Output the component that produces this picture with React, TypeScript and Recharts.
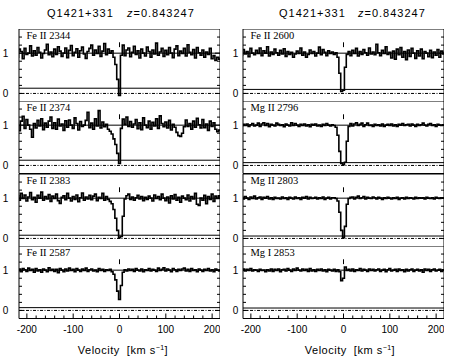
import React from 'react';
import { LineChart, Line, XAxis, YAxis, ReferenceLine, ReferenceArea } from 'recharts';

// velocity bin centres, km/s
const velocity = [
  -220, -216, -212, -208, -204, -200, -196, -192, -188, -184,
  -180, -176, -172, -168, -164, -160, -156, -152, -148, -144,
  -140, -136, -132, -128, -124, -120, -116, -112, -108, -104,
  -100, -96, -92, -88, -84, -80, -76, -72, -68, -64,
  -60, -56, -52, -48, -44, -40, -36, -32, -28, -24,
  -20, -16, -12, -8, -4, 0, 4, 8, 12, 16,
  20, 24, 28, 32, 36, 40, 44, 48, 52, 56,
  60, 64, 68, 72, 76, 80, 84, 88, 92, 96,
  100, 104, 108, 112, 116, 120, 124, 128, 132, 136,
  140, 144, 148, 152, 156, 160, 164, 168, 172, 176,
  180, 184, 188, 192, 196, 200, 204, 208, 212, 216,
  220,
];

const fe2344 = [
  0.9, 1.1, 1.04, 0.86, 1.12, 0.97, 1.0, 1.18, 0.93, 1.06,
  0.95, 1.14, 1.02, 0.88, 0.99, 1.08, 1.22, 0.96, 1.03, 0.91,
  1.1, 0.97, 1.16, 1.05, 0.92, 1.0, 1.13, 0.89, 1.07, 1.19,
  0.94, 1.02, 1.11, 0.9, 1.06, 1.15, 0.98, 0.87, 1.04, 1.12,
  1.2, 0.95, 1.08, 0.99, 1.17, 0.92, 1.05, 1.24, 0.96, 1.1,
  1.0, 1.06, 0.9, 0.72, 0.35, -0.05, 0.95, 1.2, 0.94, 1.08,
  1.13, 0.91, 1.02, 1.17, 0.97, 1.06, 0.88, 1.1, 1.0, 0.93,
  1.15, 1.04, 0.9, 1.08, 0.98, 1.25, 0.95, 1.03, 1.12, 0.92,
  1.07, 0.96, 1.14, 1.0, 0.89, 1.1, 1.18, 0.94, 1.05, 0.99,
  1.12, 0.93, 1.21, 1.02, 0.96, 1.09, 0.88, 1.14, 1.01, 0.95,
  1.08, 0.9, 1.03, 0.97, 1.12, 0.86, 0.94, 0.82, 0.9, 0.85,
  0.88,
];

const fe2374 = [
  0.96, 0.86, 1.1, 1.22, 0.92, 1.14, 1.0, 0.9, 0.7, 1.04,
  0.93, 1.12, 0.98, 1.16, 0.89, 1.05, 0.95, 1.1, 1.2, 0.92,
  1.06, 0.9, 1.15, 0.98, 1.03, 0.87, 1.11, 0.95, 1.13, 1.0,
  0.92, 1.18, 1.04, 0.88, 1.09, 0.97, 1.0, 1.12, 1.32, 0.94,
  1.05, 0.9, 1.16, 0.98, 1.36, 0.93, 1.08, 0.96, 1.02, 0.9,
  0.85, 0.78, 0.66, 0.52, 0.3, 0.05, 0.92, 1.15, 1.02, 1.2,
  0.97, 1.09, 0.95, 1.03, 1.14, 0.91, 1.06, 0.89, 1.18, 1.0,
  0.94, 1.1, 0.9, 1.07, 0.98, 1.16, 0.92, 1.23, 1.04, 0.96,
  1.08, 0.93, 1.12, 0.88, 1.02, 0.95, 0.82, 0.74, 0.72, 0.8,
  0.96, 1.13, 0.97, 1.04, 0.9, 1.1, 0.95, 1.17, 1.01, 0.93,
  1.14, 0.94, 1.03, 0.87, 1.1, 0.97, 1.06, 0.9, 0.84, 0.88,
  0.86,
];

const fe2383 = [
  1.06, 0.95, 1.12, 0.99, 1.08, 0.93, 1.03, 1.14, 0.96, 1.02,
  0.9, 1.07, 1.0, 1.15, 0.95, 1.04, 0.98, 1.09, 0.92, 1.05,
  0.99, 1.1, 0.94, 0.87, 1.02, 1.06, 0.96, 1.12, 1.0, 0.93,
  1.04, 0.97, 1.08, 0.91, 1.01, 1.13, 0.95, 1.03, 0.98, 1.07,
  0.96, 1.05, 1.1, 0.94, 1.02, 0.99, 1.12, 0.95, 1.04, 0.97,
  0.92, 0.86, 0.72, 0.5, 0.2, 0.02, 0.05, 0.55, 0.98, 1.06,
  1.1, 0.97, 1.03, 0.95, 1.01, 1.07, 0.98, 1.04, 0.94, 1.02,
  0.97, 1.05, 1.0, 0.93, 1.08, 0.99, 1.04, 0.96, 1.1, 1.0,
  0.94, 1.03, 0.88, 1.06, 0.98, 1.09, 0.95, 1.02, 0.9, 1.05,
  1.0, 0.96, 1.08, 0.93, 1.04, 0.98, 1.12, 0.85, 0.82, 1.0,
  0.95, 1.07, 0.86, 1.04, 0.97, 1.1, 0.92, 1.05, 0.99, 1.06,
  1.02,
];

const fe2587 = [
  0.98, 1.03, 0.96, 1.04, 1.01, 0.97, 1.05, 0.99, 1.02, 0.95,
  1.04, 0.98, 1.01, 0.95, 1.03, 1.0, 0.96, 1.06, 0.99, 1.02,
  0.97, 1.02, 0.94, 1.04, 1.0, 0.96, 1.03, 0.98, 1.05, 0.99,
  1.02, 0.96, 1.04, 1.0, 0.97, 1.03, 0.99, 1.05, 0.97, 1.01,
  1.03, 0.98, 1.0, 0.96, 1.04, 0.99, 1.02, 0.97, 1.01, 0.99,
  1.02, 0.96, 0.9, 0.76, 0.48, 0.27, 0.62, 0.95, 1.01, 0.98,
  1.03, 0.99, 1.02, 0.97, 1.04, 1.0, 0.98, 1.03, 0.96, 1.01,
  0.99, 1.04, 0.98, 1.02, 1.0, 0.97, 1.05, 0.99, 1.02, 1.06,
  0.98, 1.03, 1.0, 0.96, 1.04, 1.01, 0.97, 1.02, 0.99, 1.03,
  1.05, 0.98, 1.02, 0.97, 1.04, 0.99, 1.01, 0.96, 1.03, 1.0,
  0.97, 1.02, 0.99, 1.04, 0.98, 1.01, 0.96, 1.03, 1.0, 0.98,
  1.01,
];

const fe2600 = [
  0.95, 1.09, 0.98, 1.04, 0.91, 1.12, 1.0, 0.96, 1.07, 0.99,
  1.13, 0.94, 1.06, 1.0, 1.16, 0.93, 1.03, 0.97, 1.1, 1.01,
  0.95, 1.07, 0.98, 1.11, 0.92, 1.04, 0.97, 1.02, 0.9, 0.98,
  1.05, 0.99, 1.13, 0.95, 1.03, 0.9, 0.97, 1.08, 0.99, 1.04,
  0.93, 1.0, 1.15, 0.96, 1.09, 1.02, 0.94, 1.06, 0.99, 1.03,
  0.97, 1.01, 0.9, 0.5, 0.05, 0.08, 0.65, 0.97, 1.04, 0.94,
  1.07, 0.99, 1.12, 0.93, 1.04, 0.97, 1.09, 1.01, 0.95, 1.13,
  0.98, 1.03, 0.96, 1.22, 1.01, 0.94, 1.07, 0.99, 1.16, 0.97,
  1.02, 0.88, 1.05, 0.85, 1.1, 0.96, 1.14, 0.9, 1.04, 0.84,
  1.08, 0.92, 1.12, 1.0, 0.87, 1.06, 0.93, 1.1, 0.86, 1.04,
  1.0, 0.91, 1.07, 0.89, 1.03, 0.95, 1.09, 0.9, 1.05, 0.98,
  1.02,
];

const mg2796 = [
  0.98, 1.02, 0.99, 1.03, 0.97, 1.01, 1.04, 0.98, 1.0, 1.05,
  0.97, 1.03, 1.06, 0.99, 1.04, 0.96, 1.02, 1.0, 0.98, 1.05,
  1.02, 0.99, 1.01, 0.96, 1.03, 1.0, 0.98, 1.06, 0.99, 1.04,
  1.0, 0.97, 1.02, 0.99, 1.03, 0.98, 1.01, 0.96, 1.02, 1.0,
  1.03, 0.98, 1.0, 0.97, 1.02, 0.99, 1.04, 1.0, 0.98, 1.01,
  0.99, 0.95, 0.75, 0.35, 0.05, 0.02, 0.08, 0.6, 0.97, 1.04,
  0.98, 1.03, 1.06, 0.99, 1.02, 1.05, 0.97, 1.01, 1.05, 0.99,
  1.0, 0.97, 1.02, 0.99, 1.01, 0.98, 1.03, 0.97, 1.0, 1.02,
  0.99, 1.03, 0.98, 1.01, 0.97, 1.02, 1.0, 1.04, 0.99, 1.01,
  1.02, 0.98, 1.03, 1.0, 0.97, 1.02, 0.99, 1.01, 1.05, 1.0,
  0.98, 1.02, 1.04, 0.99, 1.01, 0.97, 1.02, 1.0, 0.99, 1.01,
  1.0,
];

const mg2803 = [
  1.02, 0.98, 1.04, 1.0, 0.97, 1.03, 0.99, 1.05, 0.98, 1.01,
  1.03, 0.97, 1.02, 1.0, 1.04, 0.98, 1.01, 0.97, 1.02, 0.99,
  1.0, 0.98, 1.03, 0.99, 1.01, 0.97, 1.02, 1.0, 0.98, 1.03,
  0.99, 1.01, 0.97, 1.02, 1.0, 1.04, 0.98, 1.02, 0.99, 1.0,
  1.02, 0.98, 1.01, 0.99, 1.03, 0.97, 1.0, 1.02, 0.98, 1.01,
  1.01, 0.99, 0.93, 0.65, 0.2, 0.02, 0.3, 0.85, 0.99, 1.02,
  1.03, 0.98, 1.02, 1.05, 0.99, 1.01, 1.04, 0.98, 1.02, 1.0,
  0.99, 1.03, 1.01, 0.98, 1.02, 1.0, 0.97, 1.01, 0.99, 1.02,
  1.0, 0.98, 1.01, 0.99, 1.02, 0.97, 1.0, 1.01, 0.98, 1.02,
  0.99, 1.01, 1.0, 0.98, 1.02, 0.99, 1.01, 1.0, 1.01, 0.98,
  1.02, 1.0, 0.99, 1.01, 0.98, 1.02, 1.0, 0.99, 1.01, 1.0,
  1.01,
];

const mg2853 = [
  1.0, 1.03, 0.98, 1.02, 0.99, 1.04, 0.98, 1.01, 1.0, 0.97,
  1.02, 0.99, 1.0, 0.96, 1.01, 0.98, 1.03, 0.97, 1.02, 0.99,
  1.03, 0.96, 1.01, 1.02, 0.98, 1.04, 1.0, 0.97, 1.03, 0.99,
  1.05, 1.0, 0.98, 1.03, 0.99, 1.02, 0.97, 1.04, 0.98, 1.01,
  0.97, 1.02, 0.99, 1.03, 0.98, 1.01, 0.96, 1.02, 1.0, 0.98,
  1.02, 0.97, 1.01, 0.96, 0.74, 0.8, 1.08, 0.99, 1.02, 0.98,
  1.03, 0.97, 1.01, 0.99, 1.04, 0.98, 1.02, 1.0, 0.97, 1.03,
  0.99, 1.02, 0.98, 1.01, 1.03, 0.97, 1.0, 1.02, 0.96, 1.01,
  1.04, 0.98, 1.0, 1.02, 0.97, 1.03, 0.99, 1.01, 0.96, 1.02,
  0.98, 1.01, 1.03, 0.97, 1.0, 1.02, 0.98, 1.01, 0.95, 1.03,
  0.99, 1.02, 0.97, 1.01, 1.03, 0.98, 1.0, 1.02, 0.97, 1.01,
  0.99,
];

const leftLabels = ['Fe II 2344', 'Fe II 2374', 'Fe II 2383', 'Fe II 2587'];
const rightLabels = ['Fe II 2600', 'Mg II 2796', 'Mg II 2803', 'Mg I 2853'];
const leftFlux = [fe2344, fe2374, fe2383, fe2587];
const rightFlux = [fe2600, mg2796, mg2803, mg2853];
// level of the error spectrum in each panel
const leftErr = [0.13, 0.13, 0.08, 0.07];
const rightErr = [0.1, 0.07, 0.06, 0.06];

const xTicks = [-200, -180, -160, -140, -120, -100, -80, -60, -40, -20, 0, 20, 40, 60, 80, 100, 120, 140, 160, 180, 200];
const xLabelTicks = [-200, -100, 0, 100, 200];
const yTicks = [0, 0.2, 0.4, 0.6, 0.8, 1, 1.2, 1.4];
const yLabelTicks = [0, 1];

const PLOT_W = 201;
const PLOT_H = 72.5;
const AXW = 18;
const TOP0 = 28.5;
const X_AXIS_H = 30;
const cols = [
  { x0: 18.5, gap: 13.5, labels: leftLabels, flux: leftFlux, err: leftErr, titleX: 47, zX: 127, velX: 123 },
  { x0: 242.5, gap: 7.5, labels: rightLabels, flux: rightFlux, err: rightErr, titleX: 279, zX: 358, velX: 350 },
];

const sans = '"Liberation Sans", Arial, sans-serif';

function makeYTick(gap: number) {
  return (p: any) => {
    const { x, y, payload } = p;
    const v = payload.value;
    const major = yLabelTicks.includes(v);
    const len = major ? 5 : 3;
    return (
      <g>
        <line x1={x} x2={x + len} y1={y} y2={y} stroke="#000" />
        <line x1={x + PLOT_W} x2={x + PLOT_W - len} y1={y} y2={y} stroke="#000" />
        {major && (
          <text x={x - gap} y={y} textAnchor="middle" dominantBaseline="central" fontSize={10} fontFamily={sans} fill="#000">
            {v}
          </text>
        )}
      </g>
    );
  };
}

function makeXTick(showLabel: boolean) {
  return (p: any) => {
    const { x, y, payload } = p;
    const v = payload.value;
    const major = xLabelTicks.includes(v);
    const len = major ? 5 : 3;
    return (
      <g>
        <line x1={x} x2={x} y1={y} y2={y - len} stroke="#000" />
        {showLabel && major && (
          <text x={x} y={y + 11} textAnchor="middle" dominantBaseline="central" fontSize={10} fontFamily={sans} fill="#000">
            {v}
          </text>
        )}
      </g>
    );
  };
}

function Panel({ flux, err, gap, last }: { flux: number[]; err: number; gap: number; last: boolean }) {
  const data = velocity.map((v, i) => ({ v, f: flux[i] }));
  return (
    <LineChart
      width={AXW + PLOT_W}
      height={PLOT_H + (last ? X_AXIS_H : 0)}
      data={data}
      margin={{ top: 0, right: 0, bottom: 0, left: 0 }}
    >
      <XAxis
        dataKey="v"
        type="number"
        domain={[-217, 217]}
        allowDataOverflow
        ticks={xTicks}
        interval={0}
        height={last ? X_AXIS_H : 0}
        tickSize={0}
        tickMargin={0}
        axisLine={false}
        tickLine={false}
        tick={makeXTick(last)}
      />
      <YAxis
        type="number"
        domain={[-0.2, 1.6]}
        allowDataOverflow
        ticks={yTicks}
        interval={0}
        width={AXW}
        tickSize={0}
        tickMargin={0}
        axisLine={false}
        tickLine={false}
        tick={makeYTick(gap)}
      />
      <ReferenceArea x1={-217} x2={217} y1={-0.2} y2={1.6} fill="none" fillOpacity={0} stroke="#000" strokeWidth={1} />
      <ReferenceLine y={1} stroke="#000" strokeWidth={1} />
      <ReferenceLine y={0} stroke="#000" strokeWidth={1} strokeDasharray="3 1.5 1 1.5" />
      <ReferenceLine y={err} stroke="#000" strokeWidth={1} />
      <ReferenceLine segment={[{ x: 0, y: 1.15 }, { x: 0, y: 1.27 }]} stroke="#000" strokeWidth={1} />
      <Line
        dataKey="f"
        type="step"
        stroke="#000"
        strokeWidth={1.6}
        dot={false}
        activeDot={false}
        isAnimationActive={false}
      />
    </LineChart>
  );
}

export default function App() {
  return (
    <div style={{ position: 'absolute', left: 0, top: 0, width: 461, height: 364, background: '#fff', overflow: 'hidden' }}>
      {cols.map((c, ci) => (
        <React.Fragment key={ci}>
          <div style={{ position: 'absolute', left: c.titleX, top: 7, fontFamily: sans, fontSize: 11, letterSpacing: 1, lineHeight: '13px', whiteSpace: 'nowrap' }}>
            Q1421+331
          </div>
          <div style={{ position: 'absolute', left: c.zX, top: 7, fontFamily: sans, fontSize: 11, letterSpacing: 1, lineHeight: '13px', whiteSpace: 'nowrap' }}>
            <i>z</i>=0.843247
          </div>
          {c.flux.map((fl, ri) => {
            const top = TOP0 + ri * PLOT_H;
            return (
              <React.Fragment key={ri}>
                <div style={{ position: 'absolute', left: c.x0 - AXW, top }}>
                  <Panel flux={fl} err={c.err[ri]} gap={c.gap} last={ri === 3} />
                </div>
                <div style={{ position: 'absolute', left: c.x0 + 8, top: top + 1, fontFamily: '"Liberation Serif", serif', fontSize: 10.5, lineHeight: '11px', whiteSpace: 'pre' }}>
                  {c.labels[ri]}
                </div>
              </React.Fragment>
            );
          })}
          <div style={{ position: 'absolute', left: c.velX, top: 350, transform: 'translate(-50%, -50%)', fontFamily: sans, fontSize: 11, letterSpacing: 0.5, whiteSpace: 'nowrap' }}>
            Velocity&nbsp;&nbsp;[km s<sup style={{ fontSize: 7 }}>−1</sup>]
          </div>
        </React.Fragment>
      ))}
    </div>
  );
}
